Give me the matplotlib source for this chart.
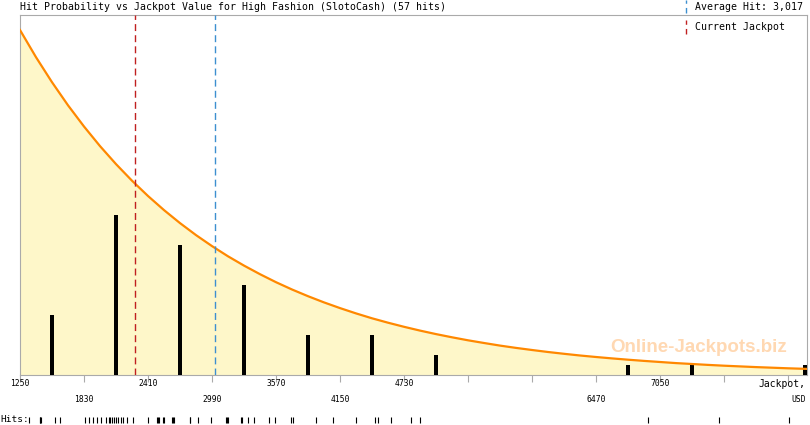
import matplotlib
matplotlib.use("Agg")
import matplotlib.pyplot as plt
from matplotlib.transforms import blended_transform_factory

# histogram of hits per 580 USD bin (lower bin edges)
bin_lo = [1250, 1830, 2410, 2990, 3570, 4150, 4730, 6470, 7050, 8210]
bin_hits = [6, 16, 13, 9, 4, 4, 2, 1, 1, 1]

# probability curve every 145 USD (same vertical scale as hits)
curve_x = list(range(1250, 8211, 145)) + [8382]
curve_y = [34.5, 31.78, 29.28, 26.97, 24.85, 22.89, 21.09, 19.43, 17.90, 16.49,
           15.19, 13.99, 12.89, 11.87, 10.94, 10.08, 9.28, 8.55, 7.88, 7.26,
           6.69, 6.16, 5.67, 5.23, 4.82, 4.44, 4.09, 3.77, 3.47, 3.20,
           2.94, 2.71, 2.50, 2.30, 2.12, 1.95, 1.80, 1.66, 1.53, 1.41,
           1.30, 1.19, 1.10, 1.01, 0.93, 0.86, 0.79, 0.73, 0.67, 0.61]

# individual hit values (rug at the bottom)
hits = [1330, 1430, 1435, 1440, 1565, 1610,
        1839, 1875, 1912, 1948, 1984, 2029, 2057, 2066, 2084, 2102, 2120,
        2138, 2165, 2183, 2220, 2274,
        2410, 2492, 2501, 2510, 2546, 2555, 2628, 2637, 2646, 2791, 2795,
        2863, 2981,
        3117, 3126, 3135, 3253, 3262, 3316, 3371, 3507, 3561,
        3706, 3724, 3933, 4087,
        4295, 4467, 4494, 4612,
        4793, 4875,
        6941, 7585, 8219]

average_hit = 3017
current_jackpot = 2295

row1_labels = [1250, 2410, 3570, 4730, 7050]
row2_labels = [1830, 2990, 4150, 6470]

x_min, x_max = 1250, 8382
mono = "DejaVu Sans Mono"
red = "#c02020"
blue = "#3d8fd0"

fig = plt.figure(figsize=(8.1, 4.25), dpi=100)
ax = fig.add_axes([20 / 810, 50 / 425, 787 / 810, 360 / 425])
ax.set_xlim(x_min, x_max)
ax.set_ylim(0, 36)

ax.fill_between(curve_x, curve_y, 0, color="#fef7c9", lw=0, zorder=1)
ax.plot(curve_x, curve_y, color="#ff8800", lw=1.6, zorder=4)

ax.text(7400, 2.75, "Online-Jackpots.biz", family="Liberation Sans",
        fontweight="bold", fontsize=13.5, color="#ffd8b2", ha="center",
        va="center", zorder=2)

bar_x = [min(lo + 290, x_max - 15) for lo in bin_lo]
ax.bar(bar_x, bin_hits, width=36, color="black", zorder=3)

ax.axvline(current_jackpot, color=red, lw=1, ls=(0, (5, 3)), zorder=5)
ax.axvline(average_hit, color=blue, lw=1, ls=(0, (5, 3)), zorder=5)

for s in ax.spines.values():
    s.set_color("#aaaaaa")
ax.set_yticks([])
ax.set_xticks(range(1250, 8382, 580))
ax.set_xticklabels([])
ax.tick_params(axis="x", direction="out", length=5, color="#aaaaaa")

tr = blended_transform_factory(ax.transData, ax.transAxes)
for v in row1_labels:
    ax.text(v, -0.024, str(v), transform=tr, ha="center", va="center",
            family=mono, fontsize=5.8)
for v in row2_labels:
    ax.text(v, -0.068, str(v), transform=tr, ha="center", va="center",
            family=mono, fontsize=5.8)
ax.text(8370, -0.024, "Jackpot,", transform=tr, ha="right", va="center",
        family=mono, fontsize=7)
ax.text(8370, -0.068, "USD", transform=tr, ha="right", va="center",
        family=mono, fontsize=5.8)

# rug of individual hits
rug_tr = blended_transform_factory(ax.transData, fig.transFigure)
ax.vlines(hits, 2 / 425, 8 / 425, transform=rug_tr, color="black", lw=0.8,
          clip_on=False)
fig.text(0, 5 / 425, "Hits:", family=mono, fontsize=6.8, va="center")

fig.text(20 / 810, 418 / 425,
         "Hit Probability vs Jackpot Value for High Fashion (SlotoCash) (57 hits)",
         family=mono, fontsize=7.1, va="center")

# legend
fig.add_artist(plt.Line2D([686 / 810] * 2, [412 / 425, 425 / 425],
                          color=blue, lw=1, ls=(0, (4, 3))))
fig.text(695 / 810, 418 / 425, "Average Hit: 3,017", family=mono,
         fontsize=7.1, va="center")
fig.add_artist(plt.Line2D([686 / 810] * 2, [391 / 425, 405 / 425],
                          color=red, lw=1, ls=(0, (4, 3))))
fig.text(695 / 810, 398 / 425, "Current Jackpot", family=mono,
         fontsize=7.1, va="center")

fig.savefig("out.png", dpi=100)
